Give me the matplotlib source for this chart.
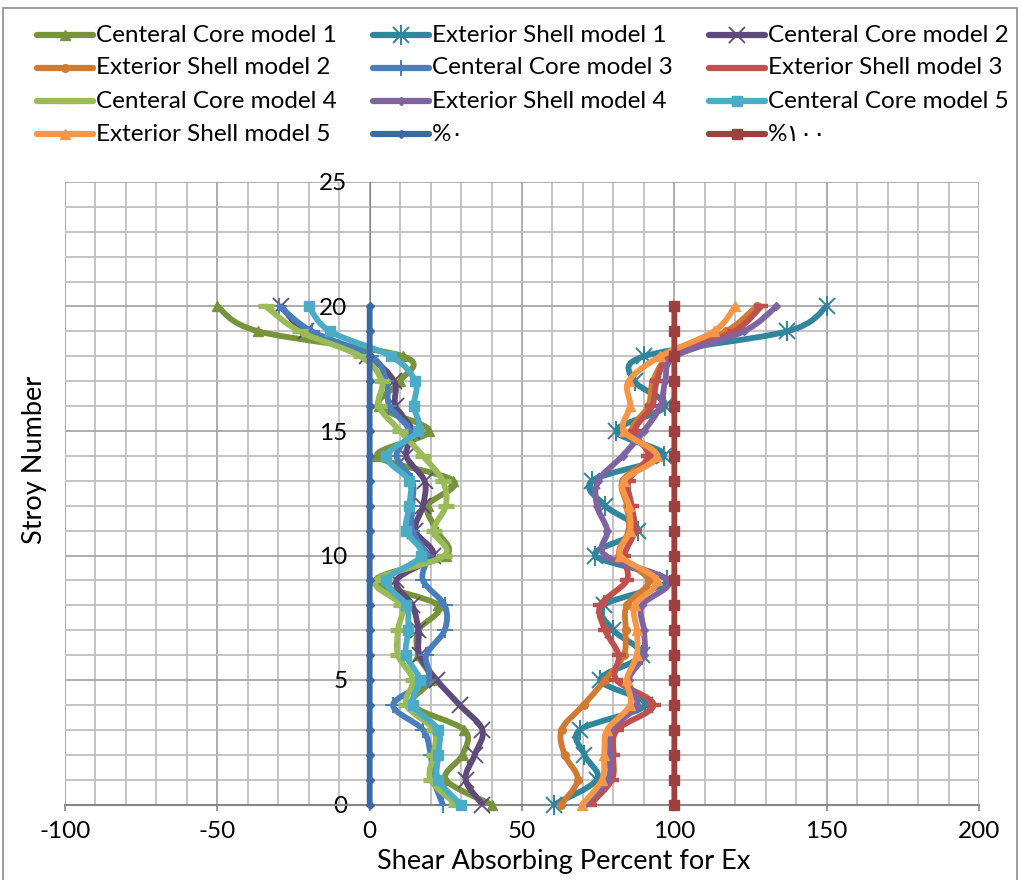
import numpy as np
import matplotlib
matplotlib.use('Agg')
import matplotlib.pyplot as plt
from matplotlib.path import Path
from matplotlib.patches import PathPatch, Rectangle
from matplotlib.lines import Line2D

plt.rcParams['font.family'] = ['Lato', 'DejaVu Sans']

# ---------------- data ----------------
stories = list(range(21))

cc1 = [40, 25, 30.5, 31, 14, 20, 16, 16, 22.5, 2, 25, 22, 19, 27.5, 2.5, 19.5, 3, 10, 11, -36.5, -50]
es1 = [60.6, 74.6, 70.5, 69, 90.5, 75.7, 89.3, 80, 76.8, 97.6, 74, 88, 77.3, 73, 96.5, 81, 97, 87, 90, 137, 150]
cc2 = [37, 31.5, 34.5, 37, 29.5, 22, 16.4, 16, 14, 8.8, 20.8, 15, 17.5, 18, 12, 14, 8.5, 8, -1, -20.8, -29]
es2 = [62.8, 68.3, 64, 63, 70.2, 77.3, 83.4, 84, 84.4, 91.6, 82, 85, 84.5, 83, 92, 86, 91.5, 93, 98.7, 117, 127]
cc3 = [24, 21, 20, 17.5, 7.7, 19, 18.6, 24.6, 24.6, 17.5, 18.6, 14, 14, 14, 8.8, 13, 6.5, 5.5, 0.5, -19, -29.6]
es3 = [72.4, 79.5, 80, 81.2, 93.2, 81, 81.7, 77.3, 75.7, 84.4, 83.6, 87, 86, 85, 91.5, 87, 92.7, 94.3, 99, 119.5, 128.5]
cc4 = [28.5, 20, 21, 21, 12, 14.2, 9.3, 9.3, 10.4, 2.2, 24.5, 21, 25, 24, 17.5, 10, 3, 4, -3, -23, -34]
es4 = [70.2, 78.2, 78.8, 79.2, 87.7, 85, 90, 90, 89.4, 98, 77.3, 78, 74.6, 75, 83, 90, 95.4, 97, 100.3, 122.8, 133.5]
cc5 = [30, 22.5, 22.5, 22.5, 14.2, 16.4, 12, 12.6, 12, 5.5, 17, 12, 13, 13, 5.5, 15.9, 14.5, 15, 7, -13, -20]
es5 = [69.8, 76.3, 77, 78, 85.5, 84.4, 87.7, 87.7, 87, 94.3, 82.3, 85.5, 85, 83.4, 94.3, 83.4, 85.5, 85, 95.4, 113, 120]
pct0 = [0] * 21
pct100 = [100] * 21

labels = ['Centeral Core model 1', 'Exterior Shell model 1', 'Centeral Core model 2',
          'Exterior Shell model 2', 'Centeral Core model 3', 'Exterior Shell model 3',
          'Centeral Core model 4', 'Exterior Shell model 4', 'Centeral Core model 5',
          'Exterior Shell model 5', '%\u0660', '%\u0661\u0660\u0660']
series = [cc1, es1, cc2, es2, cc3, es3, cc4, es4, cc5, es5, pct0, pct100]

x_ticks = [-100, -50, 0, 50, 100, 150, 200]
y_ticks = [0, 5, 10, 15, 20, 25]

# ---------------- styles ----------------
colors = ['#77933C', '#31859C', '#604A7B', '#D07A32', '#4A7EBB', '#C0504D',
          '#9BBB59', '#8064A2', '#4BACC6', '#F79646', '#3B69A3', '#A0403E']
# 'star' = x with a vertical bar; represented as a list of markers drawn together
markers = [['^'], ['x', '|'], ['x'], ['o'], ['+'], ['_'], ['_'], ['D'], ['s'], ['^'], ['D'], ['s']]
msizes = [[7], [12, 15], [12], [5.5], [12], [10], [11], [4.5], [7], [7], [4.5], [7.5]]
mews = [1, 1.4, 1.3, 1, 1.4, 3.2, 3.8, 1, 1, 1, 1, 1]

LW = 4.2
FS = 17.5


def smooth_path(xs, ys):
    pts = np.column_stack([xs, ys]).astype(float)
    n = len(pts)
    verts = [pts[0]]
    codes = [Path.MOVETO]
    for i in range(n - 1):
        p0 = pts[i - 1] if i > 0 else pts[i]
        p1 = pts[i]
        p2 = pts[i + 1]
        p3 = pts[i + 2] if i + 2 < n else pts[i + 1]
        c1 = p1 + (p2 - p0) / 6.0
        c2 = p2 - (p3 - p1) / 6.0
        verts += [c1, c2, p2]
        codes += [Path.CURVE4] * 3
    return Path(verts, codes)


W, H = 1021, 880
fig = plt.figure(figsize=(W / 100, H / 100), dpi=100)
fig.patch.set_facecolor('white')

left, right = 65 / W, 979 / W
bottom, top = 1 - 804.5 / H, 1 - 182 / H
ax = fig.add_axes([left, bottom, right - left, top - bottom])

ax.set_xlim(-100, 200)
ax.set_ylim(0, 25)
ax.set_xticks(x_ticks)
ax.set_xticks(np.arange(-100, 201, 10), minor=True)
ax.set_yticks(y_ticks)
ax.set_yticks(np.arange(0, 26, 1), minor=True)
ax.grid(which='major', color='#a6a6a6', lw=1.3, zorder=0)
ax.grid(which='minor', color='#bfbfbf', lw=1.3, zorder=0)
ax.set_axisbelow(True)

for s in ['top', 'right']:
    ax.spines[s].set_visible(False)
ax.spines['left'].set_position(('data', 0))
ax.spines['left'].set_color('#868686')
ax.spines['bottom'].set_color('#868686')
ax.spines['bottom'].set_linewidth(1.5)
ax.spines['bottom'].set_zorder(1)

ax.tick_params(axis='x', which='major', length=4, width=1.2, color='#868686',
               pad=8, labelsize=FS)
ax.tick_params(axis='x', which='minor', length=0)
ax.tick_params(axis='y', which='both', length=0, pad=16, labelsize=FS)
ax.set_xticklabels([str(v) for v in x_ticks])
ax.set_yticklabels([str(v) for v in y_ticks])

for i, (vals, c, ml, msl, mew) in enumerate(zip(series, colors, markers, msizes, mews)):
    z = 3 + i
    patch = PathPatch(smooth_path(vals, stories), facecolor='none', edgecolor=c,
                      lw=LW, capstyle='round', joinstyle='round', zorder=z)
    ax.add_patch(patch)
    for m, ms in zip(ml, msl):
        ax.plot(vals, stories, linestyle='none', marker=m, ms=ms, mew=mew,
                color=c, mec=c, mfc=c, zorder=z, clip_on=False)

# axis titles
fig.text(564 / W, 1 - 861 / H, 'Shear Absorbing Percent for Ex', ha='center', va='center',
         fontsize=19.5)
fig.text(35 / W, 1 - 460 / H, 'Stroy Number', ha='center', va='center', rotation=90,
         fontsize=19.5)

# legend (manual, 3 columns)
col_x = [37, 373, 709]
row_y = [35, 68, 101, 134]
hlen = 56
for i, (lab, c, ml, msl, mew) in enumerate(zip(labels, colors, markers, msizes, mews)):
    r, cidx = divmod(i, 3)
    x0 = col_x[cidx] / W
    x1 = (col_x[cidx] + hlen) / W
    yy = 1 - row_y[r] / H
    fig.add_artist(Line2D([x0, x1], [yy, yy], transform=fig.transFigure, color=c,
                          lw=4.5, solid_capstyle='round'))
    for m, ms in zip(ml, msl):
        fig.add_artist(Line2D([(x0 + x1) / 2], [yy], transform=fig.transFigure, color=c,
                              marker=m, ms=ms, mew=mew, mec=c, mfc=c, linestyle='none'))
    fig.text((col_x[cidx] + hlen + 3) / W, yy, lab, ha='left', va='center', fontsize=FS)

# chart border
fig.add_artist(Rectangle((3 / W, -0.01), 1014 / W, 1 - 8 / H + 0.01, transform=fig.transFigure,
                         fill=False, edgecolor='#8c8c8c', lw=1.2))

fig.savefig('out.png', dpi=100)
